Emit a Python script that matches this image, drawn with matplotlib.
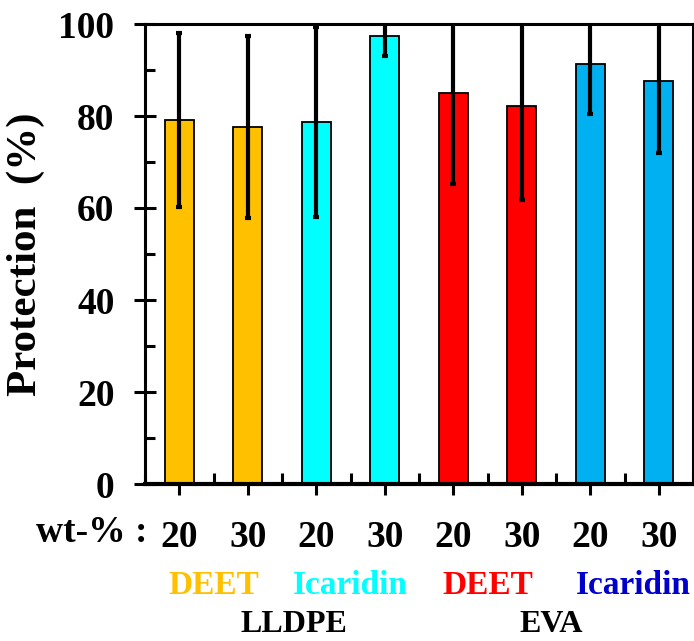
import numpy as np
import matplotlib
matplotlib.use('Agg')
import matplotlib.pyplot as plt
from matplotlib.ticker import MultipleLocator
from matplotlib.transforms import blended_transform_factory

plt.rcParams['font.family'] = ['Liberation Serif', 'DejaVu Serif']
plt.rcParams['font.weight'] = 'bold'

# data
wt_labels = ['20', '30', '20', '30', '20', '30', '20', '30']
protection = [79.2, 77.6, 78.7, 97.4, 84.9, 82.1, 91.3, 87.6]
err = [18.9, 19.8, 20.7, 4.3, 19.6, 20.3, 10.9, 15.7]
bar_colors = ['#FFC000', '#FFC000', '#00FFFF', '#00FFFF',
              '#FF0000', '#FF0000', '#00B0F0', '#00B0F0']

repellents = ['DEET', 'Icaridin', 'DEET', 'Icaridin']
repellent_colors = ['#FFC000', '#00FFFF', '#FF0000', '#0000CC']
polymers = ['LLDPE', 'EVA']

W, H = 694, 641
fig = plt.figure(figsize=(W / 100, H / 100), dpi=100)
ax = fig.add_axes([145 / W, 1 - 484 / H, 548 / W, 460 / H])

x = np.arange(len(protection)) + 0.5
ax.bar(x, protection, width=0.42, color=bar_colors, edgecolor='black',
       linewidth=1.3, zorder=2)
ax.errorbar(x, protection, yerr=err, fmt='none', ecolor='black',
            elinewidth=3.0, capsize=2.2, capthick=3.0, zorder=3)

ax.set_xlim(0, len(protection))
ax.set_ylim(0, 100)

# y axis
ax.yaxis.set_major_locator(MultipleLocator(20))
ax.yaxis.set_minor_locator(MultipleLocator(10))
ax.tick_params(axis='y', which='major', direction='inout', length=16,
               width=2.2, labelsize=27, pad=14)
ax.tick_params(axis='y', which='minor', direction='in', length=7, width=2.2)
ax.tick_params(axis='y', which='both', right=False)

# x axis: labels under bar centres, minor ticks at boundaries
ax.set_xticks(x)
ax.set_xticklabels(wt_labels)
ax.set_xticks(np.arange(len(protection) + 1), minor=True)
ax.tick_params(axis='x', which='major', direction='out', length=8,
               width=2.2, labelsize=27, pad=18)
ax.tick_params(axis='x', which='minor', direction='in', length=8, width=2.2)
ax.tick_params(axis='x', which='both', top=False)

for lbl in ax.get_xticklabels() + ax.get_yticklabels():
    lbl.set_fontweight('bold')

for s in ax.spines.values():
    s.set_linewidth(2.2)
ax.spines['bottom'].set_linewidth(3.0)

ax.set_ylabel('Protection  (%)', fontsize=31, fontweight='bold', labelpad=10)

# labels below the axis
fig.text(147 / W, 1 - 532 / H, 'wt-% :', fontsize=27, fontweight='bold',
         ha='right', va='center')

trans = blended_transform_factory(ax.transData, fig.transFigure)
rep_x = [1.0, 3.0, 5.0, 7.13]
for xp, name, col in zip(rep_x, repellents, repellent_colors):
    ax.text(xp, 1 - 586 / H, name, transform=trans, fontsize=24,
            fontweight='bold', color=col, ha='center', va='center',
            clip_on=False)

poly_x = [2.17, 5.93]
for xp, name in zip(poly_x, polymers):
    ax.text(xp, 1 - 624 / H, name, transform=trans, fontsize=23,
            fontweight='bold', color='black', ha='center', va='center',
            clip_on=False)

fig.savefig('out.png', dpi=100, facecolor='white')
